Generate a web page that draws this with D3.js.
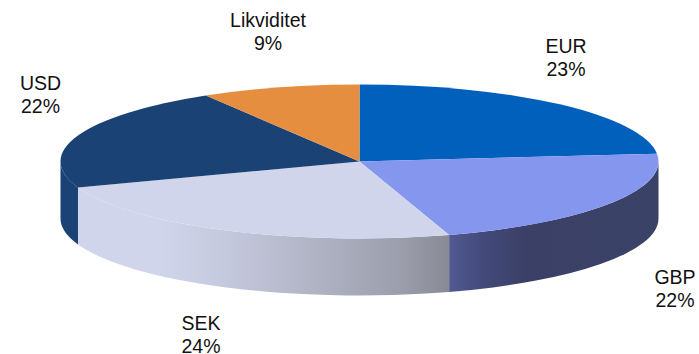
<!DOCTYPE html>
<html lang="en">
<head>
<meta charset="UTF-8">
<title>Pie</title>
<script src="https://d3js.org/d3.v7.min.js"></script>
<style>
  html, body { margin: 0; padding: 0; background: #fff; }
  svg { display: block; }
  text { font-family: "Liberation Sans", Arial, sans-serif; font-size: 19.5px; fill: #111; }
</style>
</head>
<body>
<div id="chart"></div>
<script>
// Data
const categories = ["EUR", "GBP", "SEK", "USD", "Likviditet"];
const shares = [23.4, 21.8, 24.4, 21.9, 8.6];

// Colours, same order as categories
const topColors = ["#0060bc", "#8496ee", "#d0d5ec", "#1b4274", "#e68e40"];

const width = 699, height = 354;
const cx = 359.5, cy = 161.5, rx = 299, ry = 77, depth = 57;

// label centres and first line baselines, same order as categories
const labelX = [566, 675, 201, 40.5, 268];
const labelY = [53, 284, 330, 90, 27];
const lineGap = 23;

const svg = d3.select("#chart").append("svg")
    .attr("width", width)
    .attr("height", height);

const pie = d3.pie().sort(null).value(d => d);
const slices = pie(shares);

// pie angle (0 at 12 o'clock, clockwise) to a point on the ellipse
const px = a => cx + rx * Math.sin(a);
const py = a => cy - ry * Math.cos(a);

// Side wall gradients
const defs = svg.append("defs");
const wallStops = {
    1: [[448, "#515b92"], [480, "#444b7c"], [525, "#3a4066"], [658, "#3b4267"]],
    2: [[78, "#d0d5ec"], [160, "#d0d5ec"], [220, "#c6cadf"], [300, "#b4b7c8"], [400, "#9c9eac"], [448, "#888a96"]]
};
Object.keys(wallStops).forEach(k => {
    const stops = wallStops[k];
    const g = defs.append("linearGradient")
        .attr("id", `wall-${k}`)
        .attr("gradientUnits", "userSpaceOnUse")
        .attr("x1", stops[0][0]).attr("y1", 0)
        .attr("x2", stops[stops.length - 1][0]).attr("y2", 0);
    const span = stops[stops.length - 1][0] - stops[0][0];
    stops.forEach(s => {
        g.append("stop")
            .attr("offset", (s[0] - stops[0][0]) / span)
            .attr("stop-color", s[1]);
    });
});

// Side walls: only the front half of the ellipse can be seen
const wall = d => {
    const a0 = Math.max(d.startAngle, Math.PI / 2);
    const a1 = Math.min(d.endAngle, Math.PI * 1.5);
    return `M${px(a0)},${py(a0)}`
        + `A${rx},${ry} 0 0 1 ${px(a1)},${py(a1)}`
        + `L${px(a1)},${py(a1) + depth}`
        + `A${rx},${ry} 0 0 0 ${px(a0)},${py(a0) + depth}Z`;
};

svg.append("g")
    .selectAll("path")
    .data(slices.filter(d => d.endAngle > Math.PI / 2 && d.startAngle < Math.PI * 1.5))
    .enter()
    .append("path")
    .attr("d", wall)
    .attr("fill", d => wallStops[d.index] ? `url(#wall-${d.index})` : topColors[d.index]);

// Top of the pie
const arc = d3.arc().innerRadius(0).outerRadius(rx);
svg.append("g")
    .attr("transform", `translate(${cx},${cy}) scale(1,${ry / rx})`)
    .selectAll("path")
    .data(slices)
    .enter()
    .append("path")
    .attr("d", arc)
    .attr("fill", d => topColors[d.index]);

// Labels
const labels = svg.append("g")
    .selectAll("text")
    .data(slices)
    .enter()
    .append("text")
    .attr("text-anchor", "middle");

labels.append("tspan")
    .attr("x", d => labelX[d.index])
    .attr("y", d => labelY[d.index])
    .text(d => categories[d.index]);

labels.append("tspan")
    .attr("x", d => labelX[d.index])
    .attr("y", d => labelY[d.index] + lineGap)
    .text(d => `${Math.round(d.value)}%`);
</script>
</body>
</html>
